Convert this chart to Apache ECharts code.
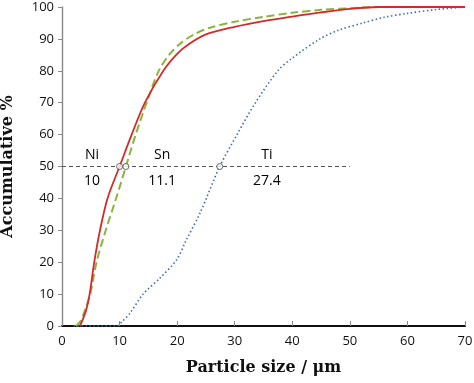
<!DOCTYPE html>
<html><head><meta charset="utf-8">
<script src="https://cdn.jsdelivr.net/npm/echarts@6/dist/echarts.min.js"></script>
<style>html,body{margin:0;padding:0;background:#fff}#c{width:474px;height:383px}</style>
</head><body><div id="c"></div>
<script>
const niData = [[3.1,0],[3.6,2],[4.2,5],[4.8,10],[5.6,20],[6.6,30],[7.9,40],[10,50],[12.1,60],[14.4,70],[17.6,80],[20,85.3],[22,88.3],[25,91.4],[30,93.8],[35,95.6],[40,97],[45,98.3],[50,99.4],[55,100],[70,100]];
const snData = [[2.4,0],[3.2,1.5],[4.0,5],[4.9,10],[6.0,20],[7.6,30],[9.4,40],[11.1,50],[12.8,60],[14.7,70],[16.8,80],[18.6,85],[20.5,88.5],[22.8,91.3],[25.7,93.5],[30,95.4],[35,96.9],[40,98.2],[45,99.1],[50,99.6],[55,100],[70,100]];
const tiData = [[2,0],[9.5,0],[10.5,1.5],[11.8,4],[14.1,10],[17,15],[19.9,20.7],[21.6,27],[24,35.5],[27.4,50],[30.4,60],[33.6,70],[37.5,80],[40,84],[44.8,90],[48,92.7],[52.3,95],[56,96.8],[60,98],[65,99.2],[70,100]];
const d50Line = [[0,50],[50,50]];
const d50Points = [[10,50],[11.1,50],[27.4,50]];
const annoNames = ['Ni','10','Sn','11.1','Ti','27.4'];
const annoX = [5.2,5.2,17.4,17.4,35.6,35.6];
const annoY = [53.6,45.5,53.6,45.5,53.6,45.5];
const chart = echarts.init(document.getElementById('c'));
chart.setOption({
  animation:false,
  grid:{left:62,right:9,top:7,bottom:57,containLabel:false,outerBoundsMode:'none'},
  xAxis:[{type:'value',min:0,max:70,interval:10,
    axisLine:{lineStyle:{color:'#888',width:1.2}},
    axisTick:{inside:true,length:5,lineStyle:{color:'#888'}},
    axisLabel:{color:'#111',fontSize:13,fontFamily:'Open Sans',margin:9},
    splitLine:{show:false},
    name:'Particle size / μm',nameLocation:'middle',nameGap:34,
    nameTextStyle:{color:'#111',fontSize:16,fontWeight:'bold',fontFamily:'DejaVu Serif'}},
   {type:'value',position:'top',min:0,max:70,interval:10,
    axisLine:{lineStyle:{color:'#111',width:2}},axisTick:{show:false},axisLabel:{show:false},splitLine:{show:false}}],
  yAxis:[{type:'value',min:0,max:100,interval:10,
    axisLine:{show:true,lineStyle:{color:'#888',width:1.2}},
    axisTick:{show:true,length:4,lineStyle:{color:'#888'}},
    axisLabel:{color:'#111',fontSize:13,fontFamily:'Open Sans',margin:8},
    splitLine:{show:false},
    name:'Accumulative %',nameLocation:'middle',nameGap:46,
    nameTextStyle:{color:'#111',fontSize:16,fontWeight:'bold',fontFamily:'DejaVu Serif'}},
   {type:'value',position:'right',min:0,max:100,interval:10,
    axisLine:{show:true,lineStyle:{color:'#888',width:1.2}},
    axisTick:{show:true,inside:true,length:4,lineStyle:{color:'#888'}},
    axisLabel:{show:false},splitLine:{show:false}}],
  series:[
    {type:'line',data:d50Line,symbol:'none',lineStyle:{color:'#555',width:1,type:[4,3]},z:1},
    {type:'line',data:tiData,smooth:0.3,symbol:'none',lineStyle:{color:'#3a6fb0',width:1.6,type:[1.5,2.5]}},
    {type:'line',data:snData,smooth:0.3,symbol:'none',lineStyle:{color:'#8cb43c',width:2,type:[8,4]}},
    {type:'line',data:niData,smooth:0.3,symbol:'none',lineStyle:{color:'#d42a2a',width:1.8}},
    {type:'scatter',data:d50Points,symbol:'circle',symbolSize:6,itemStyle:{color:'#fff',borderColor:'#444',borderWidth:1},z:5},
    {type:'scatter',data:annoNames.map((n,i)=>({name:n,value:[annoX[i],annoY[i]]})),symbol:'circle',symbolSize:1,
      itemStyle:{color:'rgba(0,0,0,0)'},
      label:{show:true,position:'inside',formatter:p=>p.name,color:'#000',opacity:1,textBorderWidth:0,fontSize:14,fontFamily:'Open Sans'},z:6}
  ]
});
</script></body></html>
